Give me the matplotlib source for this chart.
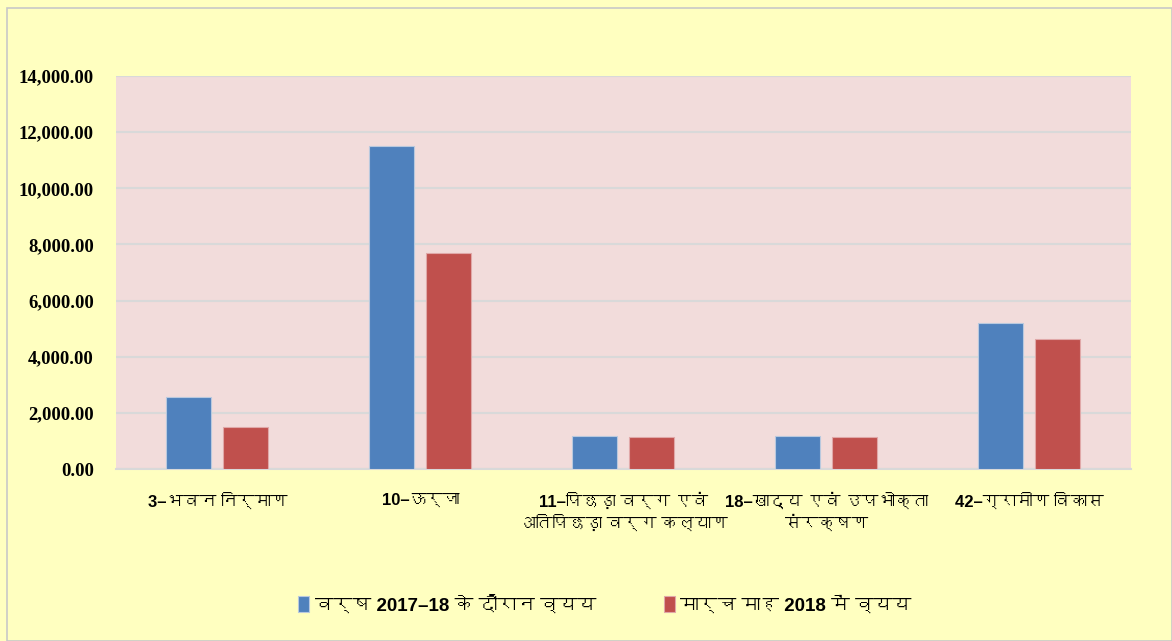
import matplotlib
matplotlib.use('Agg')
import matplotlib.pyplot as plt
from matplotlib import font_manager
from matplotlib.ft2font import FT2Font
from matplotlib.patches import Rectangle
import numpy as np

categories = ['3–भवन निर्माण', '10–ऊर्जा', '11–पिछड़ा वर्ग एवं\nअतिपिछड़ा वर्ग कल्याण',
              '18–खाद्य एवं उपभोक्ता\nसंरक्षण', '42–ग्रामीण विकास']
spend_year = [2580, 11500, 1190, 1180, 5200]
spend_march = [1480, 7680, 1140, 1150, 4630]
series_names = ['वर्ष 2017–18 के दौरान व्यय', 'मार्च माह 2018 में व्यय']
yticks = [0, 2000, 4000, 6000, 8000, 10000, 12000, 14000]


def find_deva_font():
    # look for any installed font that has Devanagari glyphs
    for f in font_manager.fontManager.ttflist:
        try:
            if 0x0915 in FT2Font(f.fname).get_charmap():
                return f.name
        except Exception:
            pass
    return None


deva = find_deva_font()
text_fonts = ['Liberation Sans'] + ([deva] if deva else []) + ['DejaVu Sans']
plt.rcParams['font.family'] = text_fonts

fig = plt.figure(figsize=(11.72, 6.41), dpi=100, facecolor='#FFFFC0')
fig.patches.append(Rectangle((0.006, 0.0), 0.994, 0.988, transform=fig.transFigure,
                             fill=False, edgecolor='#C8C8C8', lw=1.2))
ax = fig.add_axes([116 / 1172, 1 - 469 / 641, 1015 / 1172, 393 / 641])
ax.set_facecolor('#F2DCDB')

x = np.arange(len(categories))
w = 0.222
ax.bar(x - 0.143, spend_year, w, color='#4F81BD', edgecolor='#B9C9DE', lw=0.8,
       label=series_names[0], zorder=3)
ax.bar(x + 0.14, spend_march, w, color='#C0504D', edgecolor='#E0A8A8', lw=0.8,
       label=series_names[1], zorder=3)

ax.set_xlim(-0.5, len(categories) - 0.5)
ax.set_ylim(0, 14000)
ax.set_yticks(yticks)
ax.set_yticklabels(['{:,.2f}'.format(v) for v in yticks],
                   fontfamily='Liberation Serif', fontweight='bold', fontsize=13.5)
ax.set_xticks(x)
ax.set_xticklabels(categories, fontsize=12, fontweight='bold', linespacing=1.35)
ax.tick_params(axis='both', length=0)
ax.tick_params(axis='y', pad=16)
ax.tick_params(axis='x', pad=17)
ax.grid(axis='y', color='#D9D9D9', lw=1.5, zorder=0)
for s in ['top', 'right', 'left']:
    ax.spines[s].set_visible(False)
ax.spines['bottom'].set_color('#D9D9D9')
ax.spines['bottom'].set_linewidth(1.5)

fig.legend(loc='center', bbox_to_anchor=(0.516, 1 - 605 / 641), ncol=2, frameon=False,
           prop={'size': 13.5, 'weight': 'bold'}, handlelength=0.6,
           handleheight=0.9, handletextpad=0.3, columnspacing=3.6)

fig.savefig('out.png', dpi=100, facecolor=fig.get_facecolor())
